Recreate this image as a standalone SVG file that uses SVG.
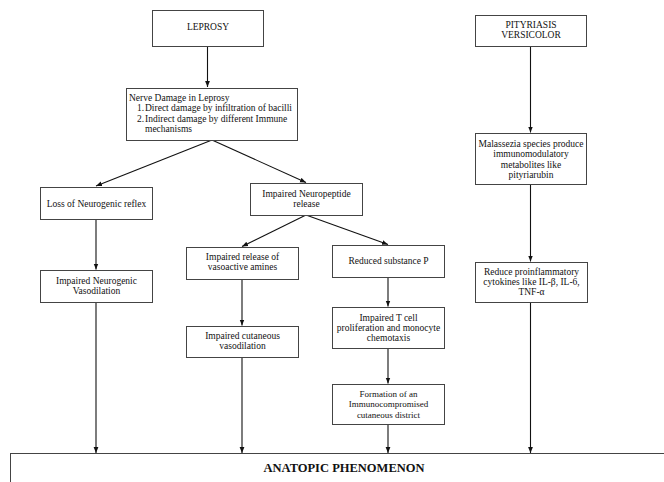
<svg xmlns="http://www.w3.org/2000/svg" width="664" height="482" viewBox="0 0 664 482">
<defs>
<marker id="ah" markerUnits="userSpaceOnUse" markerWidth="6" markerHeight="6" viewBox="0 0 6 6" refX="6" refY="3" orient="auto">
<path d="M0,0.6 L6,3 L0,5.4 Z" fill="#111"/>
</marker>
<style>
.box{fill:#fff;stroke:#444;stroke-width:1}
.t{font-family:"Liberation Serif","Times New Roman",serif;font-size:9.5px;fill:#111;text-anchor:middle}
.tl{font-family:"Liberation Serif","Times New Roman",serif;font-size:9.5px;fill:#111}
.ts{font-family:"Liberation Serif","Times New Roman",serif;font-size:9px;fill:#111;text-anchor:middle}
.tb{font-family:"Liberation Serif","Times New Roman",serif;font-size:12.5px;font-weight:bold;fill:#111;text-anchor:middle}
.c{fill:none;stroke:#111;stroke-width:1.1;marker-end:url(#ah)}
</style>
</defs>
<rect width="664" height="482" fill="#fff"/>

<g id="connectors">
<line class="c" x1="207.5" y1="46" x2="207.5" y2="87"/>
<line class="c" x1="212" y1="140" x2="96" y2="186"/>
<line class="c" x1="212" y1="140" x2="306" y2="182.5"/>
<line class="c" x1="96" y1="219" x2="96" y2="269.5"/>
<line class="c" x1="96" y1="302" x2="96" y2="453"/>
<line class="c" x1="306" y1="215" x2="242" y2="246.5"/>
<line class="c" x1="306" y1="215" x2="388" y2="244.5"/>
<line class="c" x1="242" y1="279" x2="242" y2="325.5"/>
<line class="c" x1="242" y1="357" x2="242" y2="453"/>
<line class="c" x1="388" y1="277" x2="388" y2="306.5"/>
<line class="c" x1="388" y1="348" x2="388" y2="383.5"/>
<line class="c" x1="388" y1="424" x2="388" y2="453"/>
<line class="c" x1="530.5" y1="46" x2="530.5" y2="132.5"/>
<line class="c" x1="530.5" y1="184" x2="530.5" y2="261.5"/>
<line class="c" x1="530.5" y1="302" x2="530.5" y2="453"/>
</g>

<g id="leprosy">
<rect class="box" x="152.5" y="10.5" width="111" height="36"/>
<text class="t" x="208" y="29.5">LEPROSY</text>
</g>

<g id="nerve-damage">
<rect class="box" x="126.5" y="88.5" width="171" height="52"/>
<text class="tl" x="129" y="100.5">Nerve Damage in Leprosy</text>
<text class="tl" x="137" y="111">1.</text>
<text class="tl" x="145" y="111">Direct damage by infiltration of bacilli</text>
<text class="tl" x="137" y="121.5">2.</text>
<text class="tl" x="145" y="121.5">Indirect damage by different Immune</text>
<text class="tl" x="145" y="132">mechanisms</text>
</g>

<g id="loss-reflex">
<rect class="box" x="40.5" y="187.5" width="112" height="32"/>
<text class="t" x="96.5" y="206.5">Loss of Neurogenic reflex</text>
</g>

<g id="neuropeptide">
<rect class="box" x="250.5" y="183.5" width="112" height="32"/>
<text class="t" x="306.5" y="196.5">Impaired Neuropeptide</text>
<text class="t" x="306.5" y="206.5">release</text>
</g>

<g id="neurogenic-vasodilation">
<rect class="box" x="40.5" y="270.5" width="112" height="32"/>
<text class="t" x="96.5" y="283.5">Impaired Neurogenic</text>
<text class="t" x="96.5" y="294">Vasodilation</text>
</g>

<g id="vasoactive-amines">
<rect class="box" x="186.5" y="247.5" width="112" height="32"/>
<text class="t" x="242.5" y="259.5">Impaired release of</text>
<text class="t" x="242.5" y="270">vasoactive amines</text>
</g>

<g id="cutaneous-vasodilation">
<rect class="box" x="186.5" y="326.5" width="112" height="31"/>
<text class="t" x="242.5" y="338.5">Impaired cutaneous</text>
<text class="t" x="242.5" y="349">vasodilation</text>
</g>

<g id="substance-p">
<rect class="box" x="332.5" y="245.5" width="112" height="32"/>
<text class="t" x="388.5" y="263.5">Reduced substance P</text>
</g>

<g id="t-cell">
<rect class="box" x="332.5" y="307.5" width="112" height="41"/>
<text class="t" x="388.5" y="320.5">Impaired T cell</text>
<text class="t" x="388.5" y="331">proliferation and monocyte</text>
<text class="t" x="388.5" y="341">chemotaxis</text>
</g>

<g id="formation">
<rect class="box" x="332.5" y="384.5" width="112" height="40"/>
<text class="ts" x="388.5" y="396.5">Formation of an</text>
<text class="ts" x="388.5" y="407">Immunocompromised</text>
<text class="ts" x="388.5" y="417.5">cutaneous district</text>
</g>

<g id="pityriasis">
<rect class="box" x="475.5" y="15.5" width="111" height="31"/>
<text class="t" x="531" y="27.5">PITYRIASIS</text>
<text class="t" x="531" y="38">VERSICOLOR</text>
</g>

<g id="malassezia">
<rect class="box" x="475.5" y="133.5" width="111" height="51"/>
<text class="t" x="531" y="146.5">Malassezia species produce</text>
<text class="t" x="531" y="157">immunomodulatory</text>
<text class="t" x="531" y="167.5">metabolites like</text>
<text class="t" x="531" y="178">pityriarubin</text>
</g>

<g id="cytokines">
<rect class="box" x="475.5" y="262.5" width="112" height="40"/>
<text class="t" x="531.5" y="274.5">Reduce proinflammatory</text>
<text class="t" x="531.5" y="284.5">cytokines like IL-β, IL-6,</text>
<text class="t" x="531.5" y="294.5">TNF-α</text>
</g>

<g id="anatopic">
<rect class="box" x="10.5" y="453.5" width="700" height="60"/>
<text class="tb" x="344" y="472">ANATOPIC PHENOMENON</text>
</g>
</svg>
